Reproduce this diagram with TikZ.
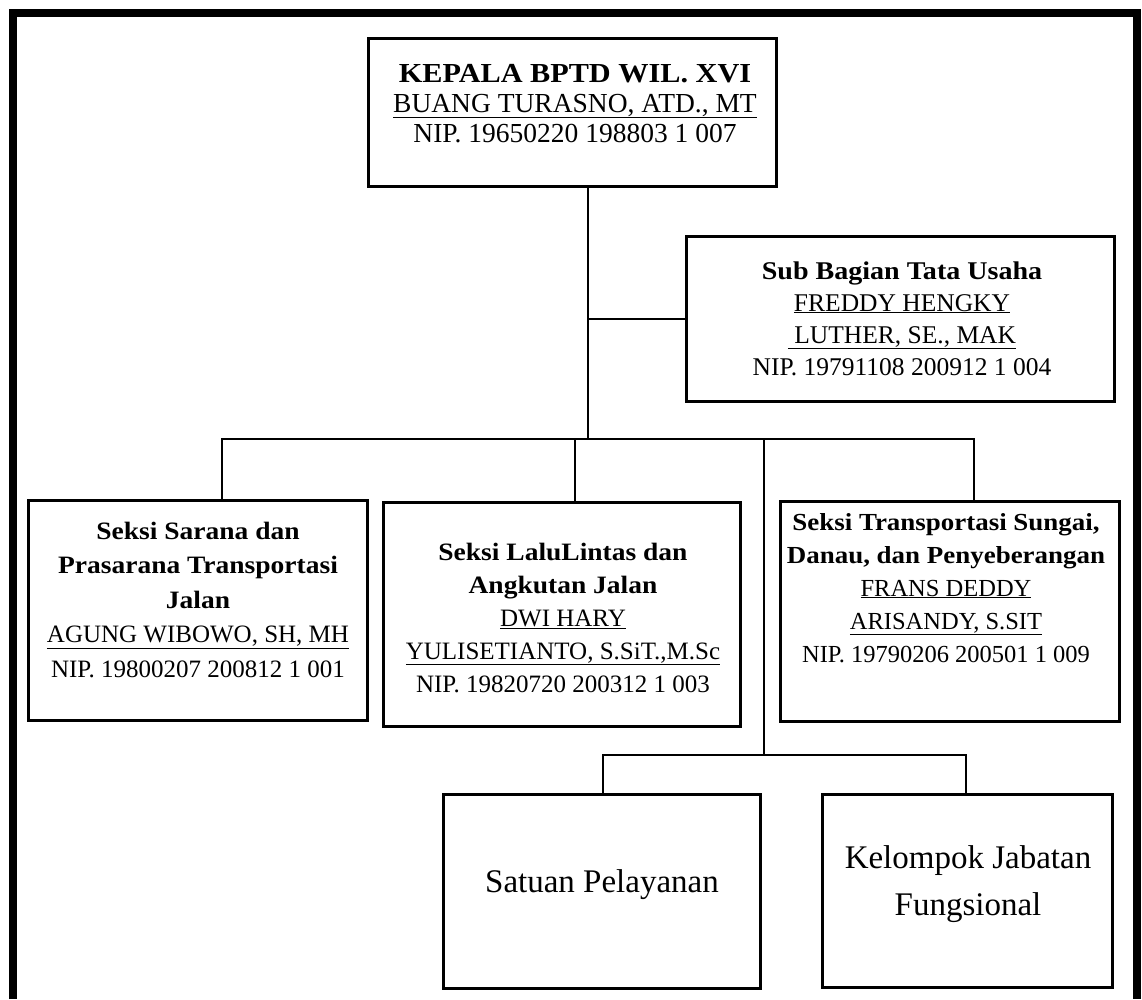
\documentclass[tikz,border=0pt]{standalone}
\usepackage{fontspec}
\setmainfont{Liberation Serif}
\newfontfamily\wideserif[FakeStretch=1.1]{Liberation Serif}
\newcommand\hd[1]{{\wideserif\bfseries #1}}
\newcommand\txtlines[1]{\begin{tabular}[t]{@{}c@{}}#1\end{tabular}}
\begin{document}
\begin{tikzpicture}[x=1pt,y=-1pt,
  frame/.style={line width=8pt},
  box/.style={draw, rectangle, line width=3pt, inner sep=0pt},
  wire/.style={line width=1.2pt},
  txt/.style={inner sep=0pt, anchor=base}]
\useasboundingbox (0,0) rectangle (1142,999);
% outer frame (open at the bottom)
\draw[frame] (13,999) -- (13,13) -- (1137,13) -- (1137,999);

% junction coordinates
\coordinate (j) at (588,439);
\coordinate (bL) at (222,439);
\coordinate (bR) at (974,439);
\coordinate (b2) at (575,439);
\coordinate (m) at (764,439);
\coordinate (mB) at (764,755);
\coordinate (lL) at (603,755);
\coordinate (lR) at (966,755);

% boxes
\node[box, minimum width=408pt, minimum height=148pt] (kepala) at (572.5,112.5) {};
\node[box, minimum width=428pt, minimum height=165pt] (sub) at (900.5,319) {};
\node[box, minimum width=339pt, minimum height=220pt] (sarana) at (198,610.5) {};
\node[box, minimum width=357pt, minimum height=224pt] (lalu) at (562,614.5) {};
\node[box, minimum width=339pt, minimum height=220pt] (sungai) at (950,611.5) {};
\node[box, minimum width=317pt, minimum height=194pt] (satuan) at (602,891.5) {};
\node[box, minimum width=290pt, minimum height=193pt] (kelompok) at (967.5,891) {};

% connectors
\draw[wire] (kepala.south -| j) -- (j);
\draw[wire] (j |- sub.west) -- (sub.west);
\draw[wire] (sarana.north -| bL) -- (bL) -- (bR) -- (sungai.north -| bR);
\draw[wire] (b2) -- (lalu.north -| b2);
\draw[wire] (m) -- (mB);
\draw[wire] (satuan.north -| lL) -- (lL) -- (lR) -- (kelompok.north -| lR);

% texts
\node[txt] (kepalaT) at (575,82) {\fontsize{27.5}{30}\selectfont\txtlines{\hd{KEPALA BPTD WIL. XVI}\\ \underline{BUANG TURASNO, ATD., MT}\\ NIP. 19650220 198803 1 007}};
\node[txt] (subT) at (902,279) {\fontsize{25.5}{32}\selectfont\txtlines{\hd{Sub Bagian Tata Usaha}\\ \underline{FREDDY HENGKY}\\ \underline{\ LUTHER, SE., MAK}\\ NIP. 19791108 200912 1 004}};
\node[txt] (saranaT) at (198,539) {\fontsize{25}{34.5}\selectfont\txtlines{\hd{Seksi Sarana dan}\\ \hd{Prasarana Transportasi}\\ \hd{Jalan}\\ \underline{AGUNG WIBOWO, SH, MH}\\ NIP. 19800207 200812 1 001}};
\node[txt] (laluT) at (563,560) {\fontsize{25}{33}\selectfont\txtlines{\hd{Seksi LaluLintas dan}\\ \hd{Angkutan Jalan}\\ \underline{DWI HARY}\\ \underline{YULISETIANTO, S.SiT.,M.Sc}\\ NIP. 19820720 200312 1 003}};
\node[txt] (sungaiT) at (946,530) {\fontsize{24.5}{33}\selectfont\txtlines{\hd{Seksi Transportasi Sungai,}\\ \hd{Danau, dan Penyeberangan}\\ \underline{FRANS DEDDY}\\ \underline{ARISANDY, S.SIT}\\ NIP. 19790206 200501 1 009}};
\node[txt] (satuanT) at (602,892) {\fontsize{33}{40}\selectfont Satuan Pelayanan};
\node[txt] (kelompokT) at (968,868) {\fontsize{33}{47}\selectfont\txtlines{Kelompok Jabatan\\ Fungsional}};
\end{tikzpicture}
\end{document}
